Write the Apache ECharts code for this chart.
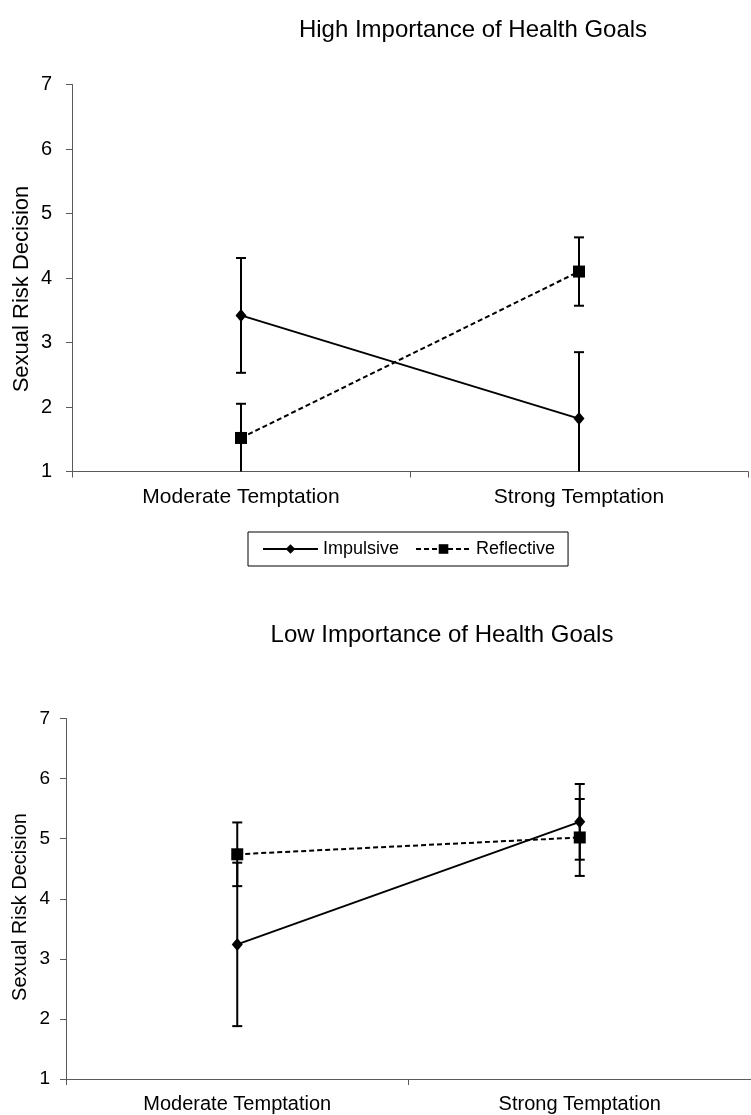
<!DOCTYPE html>
<html>
<head>
<meta charset="utf-8">
<script src="https://cdn.jsdelivr.net/npm/echarts@6/dist/echarts.min.js"></script>
<style>
html,body{margin:0;padding:0;background:#fff;}
#chart{width:751px;height:1115px;}
</style>
</head>
<body>
<div id="chart"></div>
<script>
const categories = ['Moderate Temptation', 'Strong Temptation'];
const seriesNames = ['Impulsive', 'Reflective'];
const titles = ['High Importance of Health Goals', 'Low Importance of Health Goals'];
const yAxisName = 'Sexual Risk Decision';

const highImpulsive = [3.42, 1.82];
const highImpulsiveErr = [0.89, 1.03];
const highReflective = [1.52, 4.10];
const highReflectiveErr = [0.53, 0.53];

const lowImpulsive = [3.24, 5.28];
const lowImpulsiveErr = [1.36, 0.63];
const lowReflective = [4.74, 5.02];
const lowReflectiveErr = [0.53, 0.64];

const yMin = 1, yMax = 7, yInterval = 1;

const FONT = 'Liberation Sans, Arial, sans-serif';
const AXIS_COLOR = '#5a5a5a';

function errData(vals, errs) {
  return vals.map((v, i) => [i, Math.max(v - errs[i], yMin), Math.min(v + errs[i], yMax), v - errs[i] >= yMin ? 1 : 0]);
}

function errSeries(vals, errs, idx) {
  return {
    type: 'custom',
    xAxisIndex: idx, yAxisIndex: idx,
    silent: true,
    z: 3,
    data: errData(vals, errs),
    renderItem: function (params, api) {
      const x = api.value(0);
      const hi = api.coord([x, api.value(2)]);
      const lo = api.coord([x, api.value(1)]);
      const hasLowCap = api.value(3);
      const cw = 5;
      const style = { stroke: '#000', lineWidth: 2 };
      const children = [
        { type: 'line', shape: { x1: hi[0], y1: hi[1], x2: lo[0], y2: lo[1] }, style: style },
        { type: 'line', shape: { x1: hi[0] - cw, y1: hi[1], x2: hi[0] + cw, y2: hi[1] }, style: style }
      ];
      if (hasLowCap) {
        children.push({ type: 'line', shape: { x1: lo[0] - cw, y1: lo[1], x2: lo[0] + cw, y2: lo[1] }, style: style });
      }
      return { type: 'group', children: children };
    }
  };
}

function lineSeries(name, vals, idx, dashed) {
  return {
    name: name,
    type: 'line',
    xAxisIndex: idx, yAxisIndex: idx,
    data: vals,
    symbol: dashed ? 'rect' : 'diamond',
    symbolSize: dashed ? 12 : [11, 13],
    showSymbol: true,
    z: 4,
    itemStyle: { color: '#000' },
    lineStyle: { color: '#000', width: 2, type: dashed ? [5, 3] : 'solid' },
    emphasis: { disabled: true },
    animation: false
  };
}

function xAxis(idx, fs) {
  return {
    type: 'category',
    gridIndex: idx,
    data: categories,
    boundaryGap: true,
    axisLine: { lineStyle: { color: AXIS_COLOR, width: 1 } },
    axisTick: { show: true, length: 6, lineStyle: { color: AXIS_COLOR } },
    axisLabel: { color: '#000', fontFamily: FONT, fontSize: fs, margin: 15 },
    splitLine: { show: false }
  };
}

function yAxis(idx, fs, margin) {
  return {
    type: 'value',
    gridIndex: idx,
    min: yMin, max: yMax, interval: yInterval,
    axisLine: { show: true, lineStyle: { color: AXIS_COLOR, width: 1 } },
    axisTick: { show: true, length: 6, lineStyle: { color: AXIS_COLOR } },
    axisLabel: { color: '#000', fontFamily: FONT, fontSize: fs, margin: margin },
    splitLine: { show: false }
  };
}

const chart = echarts.init(document.getElementById('chart'), null, { renderer: 'canvas' });
chart.setOption({
  animation: false,
  backgroundColor: '#fff',
  title: [
    { text: titles[0], left: 468, top: 13, textAlign: 'center',
      textStyle: { fontFamily: FONT, fontSize: 24, fontWeight: 'normal', color: '#000' } },
    { text: titles[1], left: 437, top: 618, textAlign: 'center',
      textStyle: { fontFamily: FONT, fontSize: 24, fontWeight: 'normal', color: '#000' } }
  ],
  legend: {
    data: [
      { name: seriesNames[0] },
      { name: seriesNames[1] }
    ],
    left: 248, top: 532,
    padding: [8, 13, 8, 14],
    itemGap: 16,
    itemWidth: 55,
    itemHeight: 12,
    borderColor: '#000',
    borderWidth: 1,
    borderRadius: 0,
    textStyle: { fontFamily: FONT, fontSize: 18, color: '#000' }
  },
  graphic: [
    { type: 'text', x: 22, y: 289, rotation: Math.PI / 2,
      style: { text: yAxisName, fontFamily: FONT, fontSize: 22, fill: '#000', align: 'center', verticalAlign: 'middle' } },
    { type: 'text', x: 20, y: 907, rotation: Math.PI / 2,
      style: { text: yAxisName, fontFamily: FONT, fontSize: 20, fill: '#000', align: 'center', verticalAlign: 'middle' } }
  ],
  grid: [
    { left: 72, top: 84.5, width: 676, height: 387, containLabel: false },
    { left: 66, top: 718.5, width: 700, height: 360.5, containLabel: false }
  ],
  xAxis: [xAxis(0, 21), xAxis(1, 20)],
  yAxis: [yAxis(0, 20, 20), yAxis(1, 19, 16)],
  series: [
    errSeries(highImpulsive, highImpulsiveErr, 0),
    errSeries(highReflective, highReflectiveErr, 0),
    lineSeries(seriesNames[0], highImpulsive, 0, false),
    lineSeries(seriesNames[1], highReflective, 0, true),
    errSeries(lowImpulsive, lowImpulsiveErr, 1),
    errSeries(lowReflective, lowReflectiveErr, 1),
    lineSeries(seriesNames[0], lowImpulsive, 1, false),
    lineSeries(seriesNames[1], lowReflective, 1, true)
  ]
});
</script>
</body>
</html>
